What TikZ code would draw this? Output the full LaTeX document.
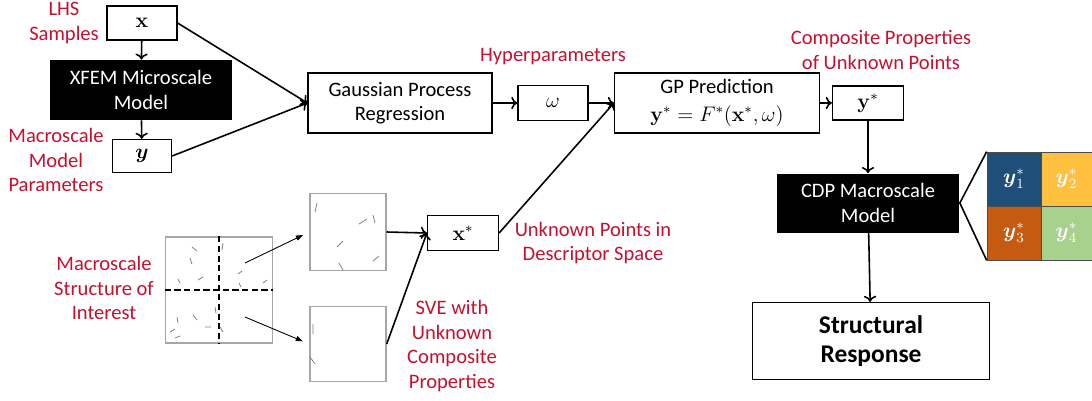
\documentclass[tikz,border=0pt]{standalone}
\usepackage{amsmath, amssymb}
\usepackage[no-math]{fontspec}
\setmainfont{Carlito}
\usepackage{tikz}
\usetikzlibrary{arrows.meta}

\definecolor{lblred}{RGB}{200,16,46}
\definecolor{cellblue}{RGB}{31,78,121}
\definecolor{cellyellow}{RGB}{255,192,64}
\definecolor{cellorange}{RGB}{197,90,17}
\definecolor{cellgreen}{RGB}{169,209,142}

\begin{document}
\begin{tikzpicture}[x=0.02cm, y=-0.02cm, font=\fontsize{11.7}{14}\selectfont,
    box/.style = {draw, line width=0.7pt, fill=white, align=center, inner sep=0pt},
    mathbox/.style = {box, font=\large},
    blackbox/.style = {fill=black, text=white, align=center, inner sep=0pt},
    lbl/.style = {text=lblred, align=center},
    flow/.style = {-{To[length=3.5pt, width=7pt]}, line width=0.9pt},
    thinflow/.style = {-{Triangle[length=4pt, width=3pt]}, line width=0.5pt},
    sve/.style = {draw=gray!70, line width=0.8pt, inner sep=0pt},
    cell/.style = {draw=black!70, line width=0.4pt, text=white, inner sep=0pt, minimum height=1.08cm, font=\large},
    fib/.style = {gray, line width=0.45pt}]
    \useasboundingbox (0,0) rectangle (1092,400);

    % upper chain
    \node[mathbox, minimum width=1.4cm, minimum height=0.68cm] (x) at (142,23) {$\mathbf{x}$};
    \node[blackbox, minimum width=3.66cm, minimum height=1.2cm] (xfem) at (141,90) {XFEM Microscale\\Model};
    \node[mathbox, minimum width=1.18cm, minimum height=0.66cm] (y) at (142,156) {$\boldsymbol{y}$};
    \node[box, minimum width=3.68cm, minimum height=1.2cm] (gpr) at (400,103) {Gaussian Process\\Regression};
    \node[box, minimum width=1.4cm, minimum height=0.7cm] (w) at (553,103) {$\omega$};
    \node[box, minimum width=4.1cm, minimum height=1.2cm] (gp) at (717,103) {GP Prediction\\[2pt]$\mathbf{y}^{*}=F^{*}(\mathbf{x}^{*},\omega)$};
    \node[mathbox, minimum width=1.42cm, minimum height=0.68cm] (ys) at (868,103) {$\mathbf{y}^{*}$};
    \node[blackbox, minimum width=3.66cm, minimum height=1.18cm] (cdp) at (868,203) {CDP Macroscale\\Model};
    \node[box, minimum width=4.74cm, minimum height=1.54cm, font=\fontsize{14.5}{16.5}\selectfont\bfseries] (resp) at (871,341) {Structural\\Response};

    % lower chain
    \node[sve, minimum width=2.14cm, minimum height=2.12cm] (macro) at (219,290) {};
    \node[sve, minimum width=1.52cm, minimum height=1.54cm] (sve1) at (348,232) {};
    \node[sve, minimum width=1.52cm, minimum height=1.5cm] (sve2) at (348,344) {};
    \node[mathbox, minimum width=1.42cm, minimum height=0.7cm] (xs) at (463,233) {$\mathbf{x}^{*}$};

    % property grid
    \node[cell, fill=cellblue, minimum width=1.08cm] (c1) at (1014,179) {$\boldsymbol{y}_1^{*}$};
    \node[cell, fill=cellyellow, minimum width=1.02cm] (c2) at (1066.5,179) {$\boldsymbol{y}_2^{*}$};
    \node[cell, fill=cellorange, minimum width=1.08cm] (c3) at (1014,233) {$\boldsymbol{y}_3^{*}$};
    \node[cell, fill=cellgreen, minimum width=1.02cm] (c4) at (1066.5,233) {$\boldsymbol{y}_4^{*}$};

    % labels
    \node[lbl] (lhs) at (64,23) {LHS\\Samples};
    \node[lbl] (mpar) at (56,160) {Macroscale\\Model\\Parameters};
    \node[lbl] (hyp) at (553,57) {Hyperparameters};
    \node[lbl] (cpu) at (881,50) {Composite Properties\\of Unknown Points};
    \node[lbl] (msi) at (104,288) {Macroscale\\Structure of\\Interest};
    \node[lbl] (upd) at (593,243) {Unknown Points in\\Descriptor Space};
    \node[lbl] (svel) at (452,346) {SVE with\\Unknown\\Composite\\Properties};

    % dashed partition of the structure
    \draw[dash pattern=on 3.5pt off 2pt, line width=1pt] (macro.north) -- (macro.south);
    \draw[dash pattern=on 3.5pt off 2pt, line width=1pt] (macro.west) -- (macro.east);

    % fibres
    \draw[fib] (192,247) -- (197,251) (190,258) -- (192,264) (178,279) -- (180,283)
               (198,280) -- (203,277) (223,243) -- (222,250) (238,274) -- (242,271)
               (239,283) -- (241,287) (263,283) -- (267,280) (193,315) -- (197,320)
               (177,317) -- (178,323) (170,332) -- (175,329) (175,338) -- (180,336)
               (205,327) -- (211,327) (215,307) -- (216,313) (220,327) -- (223,332);
    \draw[fib] (315,212) -- (317,203) (359,224) -- (367,219) (373,215) -- (375,223)
               (337,247) -- (343,241) (339,263) -- (343,270) (373,261) -- (379,256);
    \draw[fib] (313,324) -- (313,334) (310,357) -- (315,364);

    \coordinate (m1) at (245,263);
    \coordinate (m2) at (245,317);

    % connectors
    \draw[flow] (x) -- (xfem);
    \draw[flow] (xfem) -- (y);
    \draw[flow] (x.east) -- (gpr.west);
    \draw[flow] (y.east) -- (gpr.west);
    \draw[flow] (gpr) -- (w);
    \draw[flow] (w) -- (gp);
    \draw[flow] (xs.east) -- (gp.west);
    \draw[flow] (gp) -- (ys);
    \draw[flow] (ys) -- (cdp);
    \draw[flow] (cdp) -- (resp);
    \draw[thinflow, shorten >=4pt] (m1) -- (sve1.west);
    \draw[thinflow, shorten >=4pt] (m2) -- (sve2.west);
    \draw[flow] (sve1.east) -- (xs.west);
    \draw[flow] (sve2.east) -- (xs.west);
    \draw[line width=0.9pt] (c1.north west) -- (cdp.east) -- (c3.south west);
\end{tikzpicture}
\end{document}
